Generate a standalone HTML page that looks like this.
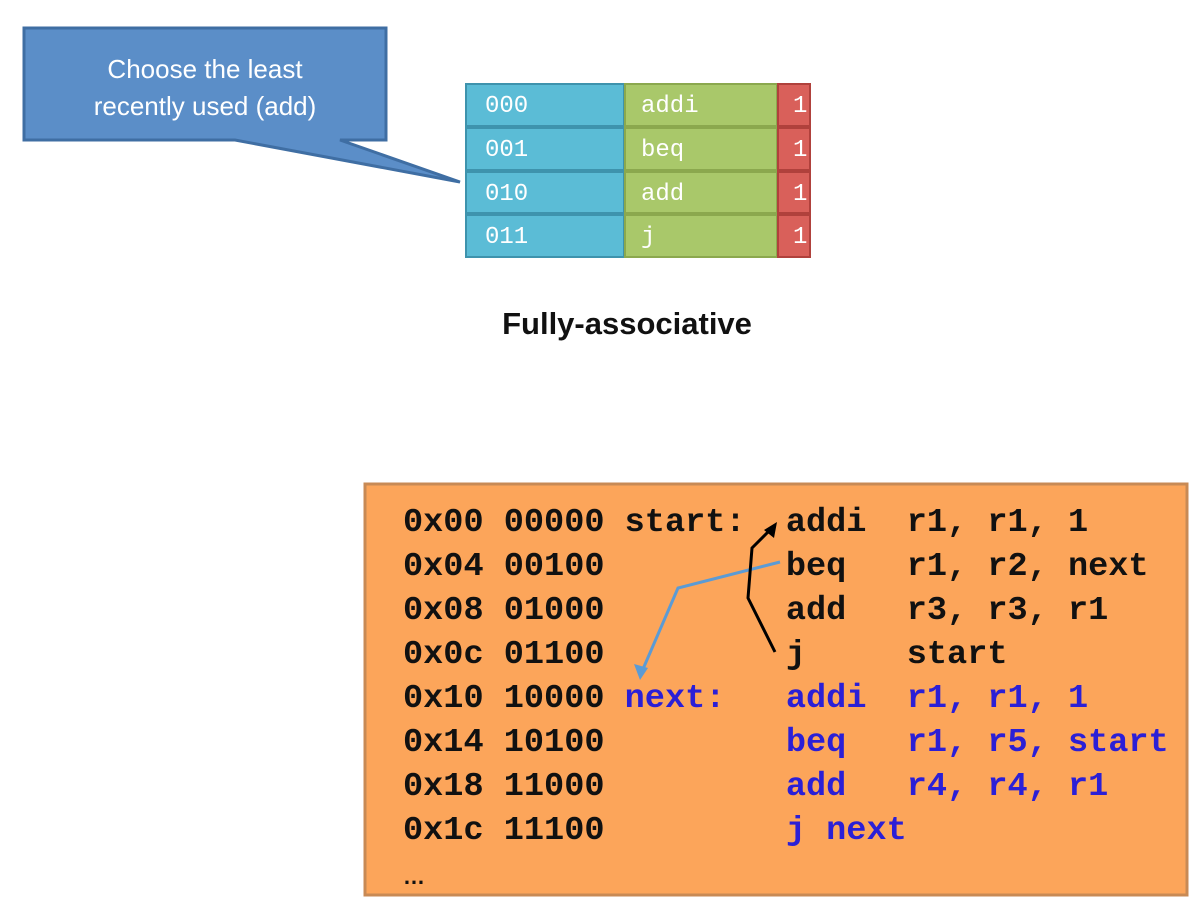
<!DOCTYPE html>
<html><head><style>
body{margin:0;width:1203px;height:902px;background:#fff;position:relative;overflow:hidden;font-family:"Liberation Sans",sans-serif}
.abs{position:absolute}
.cell{position:absolute;box-sizing:border-box;font-family:"Liberation Mono",monospace;font-size:24px;color:#fff;padding-left:18px;line-height:44px}
.b{background:#5bbcd6;border:2px solid #3e93ad}
.g{background:#a9c86a;border:2px solid #8ba84e;padding-left:15px}
.r{background:#d9605a;border:2px solid #b0413c;padding-left:14px}
pre{margin:0;font-family:"Liberation Mono",monospace;font-weight:bold;font-size:33.6px;line-height:44px;color:#111}
.bl{color:#2b1fd6}
</style></head><body>
<svg class="abs" style="left:0;top:0" width="1203" height="902">
<polygon points="24,28 386,28 386,140 340,140 460,182 235,140 24,140" fill="#5b8ec8" stroke="#3f6ea3" stroke-width="3"/>
<rect x="365" y="484" width="822" height="411" fill="#fca55a" stroke="#c88a55" stroke-width="3"/>
<polyline points="780,562 678,588 640,676" fill="none" stroke="#5b9bd5" stroke-width="3"/>
<polygon points="640,680 634,664 648,668" fill="#5b9bd5"/>
<path d="M775,652 L748,598 L752,548 L770,530" fill="none" stroke="#000" stroke-width="3"/>
<polygon points="777,522 764,530 774,538" fill="#000"/>
</svg>
<div class="abs" style="left:24px;top:51px;width:362px;text-align:center;color:#fff;font-size:26px;line-height:37px">Choose the least<br>recently used (add)</div>
<div class="cell b" style="left:465px;top:83px;width:160px;height:44px">000</div>
<div class="cell g" style="left:624px;top:83px;width:154px;height:44px">addi</div>
<div class="cell r" style="left:777px;top:83px;width:34px;height:44px">1</div>
<div class="cell b" style="left:465px;top:127px;width:160px;height:44px">001</div>
<div class="cell g" style="left:624px;top:127px;width:154px;height:44px">beq</div>
<div class="cell r" style="left:777px;top:127px;width:34px;height:44px">1</div>
<div class="cell b" style="left:465px;top:171px;width:160px;height:43px">010</div>
<div class="cell g" style="left:624px;top:171px;width:154px;height:43px">add</div>
<div class="cell r" style="left:777px;top:171px;width:34px;height:43px">1</div>
<div class="cell b" style="left:465px;top:214px;width:160px;height:44px">011</div>
<div class="cell g" style="left:624px;top:214px;width:154px;height:44px">j</div>
<div class="cell r" style="left:777px;top:214px;width:34px;height:44px">1</div>
<div class="abs" style="left:427px;top:306px;width:400px;text-align:center;font-weight:bold;font-size:31px;color:#111">Fully-associative</div>
<pre class="abs" style="left:403px;top:501px">0x00 00000 start:  addi  r1, r1, 1
0x04 00100         beq   r1, r2, next
0x08 01000         add   r3, r3, r1
0x0c 01100         j     start
0x10 10000 <span class="bl">next:</span>   <span class="bl">addi  r1, r1, 1</span>
0x14 10100         <span class="bl">beq   r1, r5, start</span>
0x18 11000         <span class="bl">add   r4, r4, r1</span>
0x1c 11100         <span class="bl">j next</span>
</pre>
<div class="abs" style="left:403px;top:864px;font-weight:bold;font-size:22px;color:#111">…</div>
</body></html>
